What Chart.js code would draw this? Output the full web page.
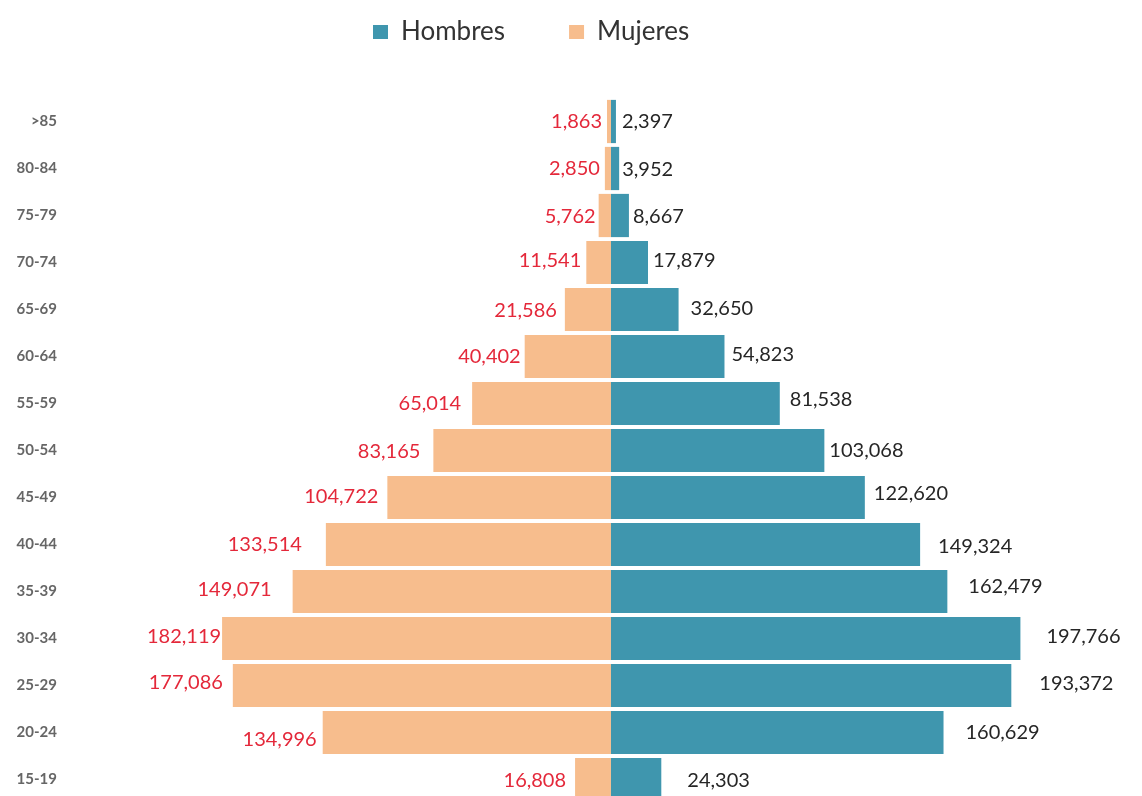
<!DOCTYPE html>
<html lang="es">
<head>
<meta charset="utf-8">
<title>Pirámide de población</title>
<script src="https://cdn.jsdelivr.net/npm/chart.js@4/dist/chart.umd.min.js"></script>
<style>
    html, body { margin: 0; padding: 0; background: #fff; overflow: hidden; }
    #piramide { position: absolute; left: 0; top: 0; }
</style>
</head>
<body>
<!-- más alto que la ventana: la última fila queda cortada como en el original -->
<canvas id="piramide" width="1142" height="822"></canvas>
<script>
// Grupos de edad (de arriba hacia abajo)
const grupos = [">85", "80-84", "75-79", "70-74", "65-69", "60-64", "55-59", "50-54",
    "45-49", "40-44", "35-39", "30-34", "25-29", "20-24", "15-19"];

// Población por grupo
const hombres = [2397, 3952, 8667, 17879, 32650, 54823, 81538, 103068,
    122620, 149324, 162479, 197766, 193372, 160629, 24303];
const mujeres = [1863, 2850, 5762, 11541, 21586, 40402, 65014, 83165,
    104722, 133514, 149071, 182119, 177086, 134996, 16808];

// En el original las etiquetas están movidas a mano: separación (px) y desplazamiento vertical
const sepHombres = [6, 3, 4, 5, 12, 7, 10, 5, 9, 18, 21, 26, 28, 22, 26];
const dyHombres = [0, 1, 1, -2, -1, -2, -4, 0, -4, 2, -5, -2, -2, 0, 1];
const sepMujeres = [5, 5, 3, 5, 8, 4, 11, 13, 9, 24, 21, 1, 10, 6, 9];
const dyMujeres = [0, 0, 1, -2, 1, 0, 0, 1, -1, 0, -2, -2, -3, 7, 1];

const colorHombres = "#3F96AE";
const colorMujeres = "#F7BD8D";

// Dibuja los valores junto a cada barra
const etiquetas = {
    id: "etiquetas",
    afterDatasetsDraw(chart) {
        const ctx = chart.ctx;
        ctx.save();
        ctx.font = "20px Lato";
        ctx.textBaseline = "middle";
        chart.data.datasets.forEach((ds, d) => {
            const meta = chart.getDatasetMeta(d);
            meta.data.forEach((bar, i) => {
                if (d === 0) {
                    ctx.fillStyle = "#262626";
                    ctx.textAlign = "left";
                    ctx.fillText(hombres[i].toLocaleString("en-US"), bar.x + sepHombres[i], bar.y + dyHombres[i]);
                } else {
                    ctx.fillStyle = "#E4283A";
                    ctx.textAlign = "right";
                    ctx.fillText(mujeres[i].toLocaleString("en-US"), bar.x - sepMujeres[i], bar.y + dyMujeres[i]);
                }
            });
        });
        ctx.restore();
    }
};

// Coloca la leyenda donde está en el original (un poco a la izquierda del centro)
const ajusteLeyenda = {
    id: "ajusteLeyenda",
    afterLayout(chart) {
        chart.legend.left = 309;
        chart.legend.top = -45;
    }
};

const chart = new Chart(document.getElementById("piramide"), {
    type: "bar",
    data: {
        labels: grupos,
        datasets: [
            {
                label: "Hombres",
                data: hombres,
                backgroundColor: colorHombres,
                xAxisID: "xH"
            },
            {
                label: "Mujeres",
                data: mujeres.map(v => -v),
                backgroundColor: colorMujeres,
                xAxisID: "xM"
            }
        ]
    },
    options: {
        indexAxis: "y",
        responsive: false,
        animation: false,
        categoryPercentage: 1,
        barPercentage: 0.92,
        layout: { padding: 0 },
        scales: {
            y: {
                stacked: true,
                grid: { display: false },
                border: { display: false },
                ticks: {
                    padding: 10,
                    color: "#666",
                    font: { family: "Lato", size: 15, weight: "bold" }
                },
                afterFit(axis) { axis.width = 75; }
            },
            // en el original las dos mitades no tienen la misma escala
            xH: { type: "linear", display: false, min: -258900, max: 256500 },
            xM: { type: "linear", display: false, min: -251000, max: 248700 }
        },
        plugins: {
            legend: {
                position: "top",
                align: "start",
                maxHeight: 98,
                labels: {
                    boxWidth: 15,
                    boxHeight: 14,
                    padding: 64,
                    color: "#333",
                    font: { family: "Lato", size: 26 }
                }
            },
            tooltip: { enabled: false }
        }
    },
    plugins: [etiquetas, ajusteLeyenda]
});
</script>
</body>
</html>
